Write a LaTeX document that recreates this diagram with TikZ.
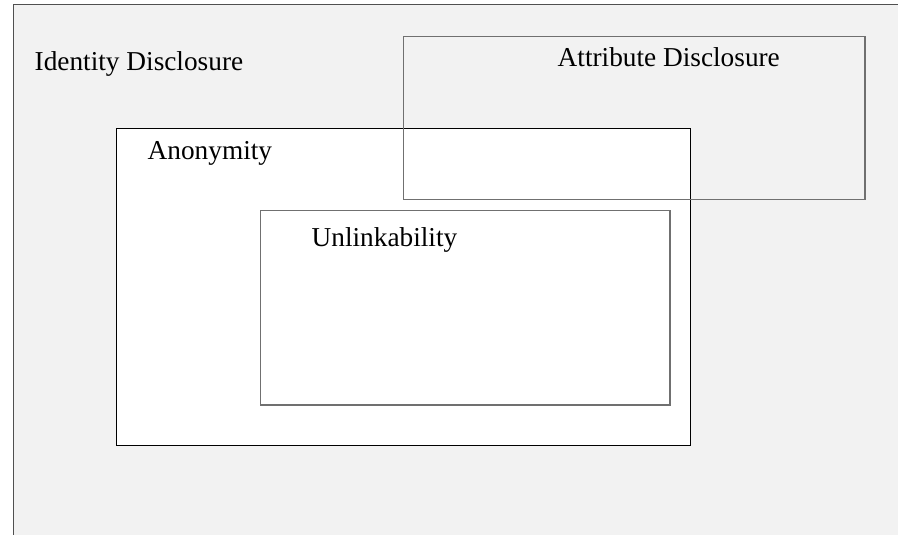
\documentclass[tikz,border=0pt]{standalone}
\usepackage{fontspec}
\setmainfont{Liberation Serif}
\usepackage{tikz}
\usetikzlibrary{positioning}
\definecolor{bggray}{HTML}{F2F2F2}
\definecolor{edgegray}{HTML}{707070}
\definecolor{outergray}{HTML}{505050}

\begin{document}
\begin{tikzpicture}[x=1pt,y=-1pt,font=\fontsize{27.3}{30}\selectfont,
 region/.style={draw=edgegray,line width=1.1pt},
 inner/.style={draw=black,line width=1.2pt,fill=white},
 lbl/.style={anchor=base west,inner sep=0pt}]
\useasboundingbox (0,0) rectangle (898,535);
% identity disclosure (outer area)
\fill[bggray] (13.5,4.5) rectangle (898,535);
\draw[draw=outergray,line width=1pt] (13.5,535) -- (13.5,4.5) -- (898,4.5);
\node[lbl] (ident) at (34.5,71) {Identity Disclosure};
% anonymity
\draw[inner] (116.5,128.5) rectangle (690.5,445.5);
\node[lbl] (anon) at (147.5,159.5) {Anonymity};
% unlinkability
\draw[region] (260.5,210.5) rectangle (670,405);
\node[lbl] (unlink) at (311.5,246) {Unlinkability};
% attribute disclosure
\draw[region] (403.5,36.5) rectangle (865,199.5);
\node[lbl] (attr) at (557.5,66.5) {Attribute Disclosure};
\end{tikzpicture}
\end{document}
